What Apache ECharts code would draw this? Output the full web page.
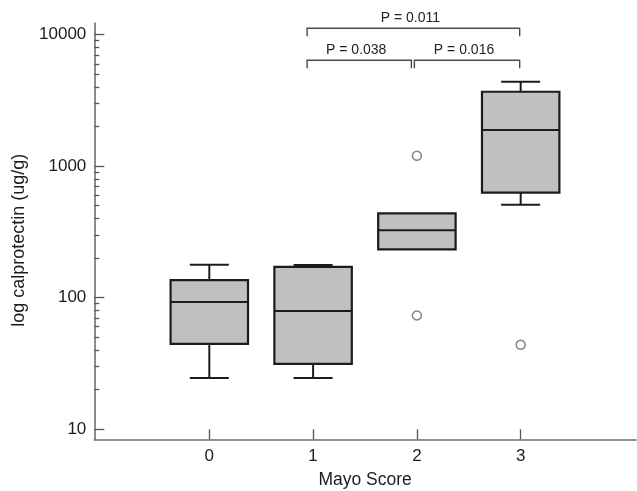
<!DOCTYPE html>
<html>
<head>
<meta charset="utf-8">
<script src="https://cdn.jsdelivr.net/npm/echarts@6/dist/echarts.min.js"></script>
<style>html,body{margin:0;padding:0;background:#fff}#c{width:637px;height:491px}</style>
</head>
<body>
<div id="c"></div>
<script>
// ---- data ----
const categories = ['0', '1', '2', '3'];
const groupX = [0, 1, 2, 3];
const whiskerLow = [24.4, 24.4, 232.7, 508];
const q1 = [44.5, 31.3, 232.7, 628];
const median = [92.6, 78.9, 326, 1882];
const q3 = [136, 171.5, 437, 3683];
const whiskerHigh = [178, 177, 437, 4390];
const outlierGroup = [2, 2, 3];
const outlierValue = [1200, 73.2, 43.7];
const yMajorTicks = [10, 100, 1000, 10000];
const yMinorTicks = [20, 30, 40, 50, 60, 70, 80, 90,
  200, 300, 400, 500, 600, 700, 800, 900,
  2000, 3000, 4000, 5000, 6000, 7000, 8000, 9000];
const comparisonFrom = [1, 2, 1];
const comparisonTo = [2, 3, 3];
const comparisonLevel = [0, 0, 1];
const comparisonLabel = ['P = 0.038', 'P = 0.016', 'P = 0.011'];
const yRange = [8.35, 12215];
const xRange = [-1.108, 4.111];

const boxData = groupX.map((x, i) => [x, whiskerLow[i], q1[i], median[i], q3[i], whiskerHigh[i]]);
const outlierData = outlierGroup.map((g, i) => [g, outlierValue[i]]);
const bracketData = comparisonFrom.map((f, i) => [f, comparisonTo[i], comparisonLevel[i], i]);

const chart = echarts.init(document.getElementById('c'), null, {renderer: 'canvas'});
const FONT = 'Liberation Sans, Arial, Helvetica, sans-serif';
const INK = '#1c1c1c';

function renderBox(params, api) {
  const x = api.value(0);
  const pLow = api.coord([x, api.value(1)]);
  const pQ1 = api.coord([x, api.value(2)]);
  const pMed = api.coord([x, api.value(3)]);
  const pQ3 = api.coord([x, api.value(4)]);
  const pHigh = api.coord([x, api.value(5)]);
  const unit = api.coord([1, 100])[0] - api.coord([0, 100])[0];
  const half = unit * 0.373;
  const capHalf = unit * 0.188;
  const cx = pMed[0];
  const ls = {stroke: INK, lineWidth: 2, fill: null};
  const children = [];
  if (pQ3[1] - pHigh[1] > 0.5) {
    children.push({type: 'line', shape: {x1: cx, y1: pQ3[1], x2: cx, y2: pHigh[1]}, style: ls});
    children.push({type: 'line', shape: {x1: cx - capHalf, y1: pHigh[1], x2: cx + capHalf, y2: pHigh[1]}, style: ls});
  }
  if (pLow[1] - pQ1[1] > 0.5) {
    children.push({type: 'line', shape: {x1: cx, y1: pQ1[1], x2: cx, y2: pLow[1]}, style: ls});
    children.push({type: 'line', shape: {x1: cx - capHalf, y1: pLow[1], x2: cx + capHalf, y2: pLow[1]}, style: ls});
  }
  children.push({type: 'rect', shape: {x: cx - half, y: pQ3[1], width: 2 * half, height: pQ1[1] - pQ3[1]},
    style: {fill: '#c0c0c0', stroke: INK, lineWidth: 2.2}});
  children.push({type: 'line', shape: {x1: cx - half, y1: pMed[1], x2: cx + half, y2: pMed[1]}, style: ls});
  return {type: 'group', children};
}

function renderBracket(params, api) {
  const a = api.value(0), b = api.value(1), level = api.value(2), idx = api.value(3);
  const top = params.coordSys.y;
  const xa = api.coord([a, 100])[0];
  const xb = api.coord([b, 100])[0];
  let sameLevelEndsAtA = false, sameLevelStartsAtB = false;
  for (let j = 0; j < comparisonFrom.length; j++) {
    if (j === idx || comparisonLevel[j] !== level) continue;
    if (comparisonTo[j] === a) sameLevelEndsAtA = true;
    if (comparisonFrom[j] === b) sameLevelStartsAtB = true;
  }
  const left = sameLevelEndsAtA ? xa - 2.5 : xa - 6;
  const right = sameLevelStartsAtB ? xb - 5.5 : xb - 1;
  const ly = top + (level === 0 ? 37 : 5);
  const drop = 8;
  const st = {stroke: '#4a4a4a', lineWidth: 1.4, fill: null};
  return {
    type: 'group',
    children: [
      {type: 'polyline', shape: {points: [[left, ly + drop], [left, ly], [right, ly], [right, ly + drop]]}, style: st},
      {type: 'text', style: {text: comparisonLabel[idx], x: (left + right) / 2 - 3, y: ly - 10.5,
        align: 'center', verticalAlign: 'middle', font: '14px ' + FONT, fill: '#222'}}
    ]
  };
}

const option = {
  animation: false,
  backgroundColor: '#fff',
  grid: {left: 94.3, right: 1, top: 23.3, bottom: 51.7, containLabel: false, outerBoundsMode: 'none'},
  xAxis: {
    type: 'value', min: xRange[0], max: xRange[1],
    splitLine: {show: false},
    axisLine: {show: true, onZero: false, lineStyle: {color: '#6e6e6e', width: 1.6}},
    axisTick: {show: true, inside: true, length: 10, customValues: groupX, lineStyle: {color: '#555', width: 1.3}},
    axisLabel: {customValues: groupX, formatter: v => categories[groupX.indexOf(Math.round(v))],
      margin: 9, fontSize: 17, color: INK, fontFamily: FONT},
    name: 'Mayo Score', nameLocation: 'middle', nameGap: 32,
    nameTextStyle: {fontSize: 17.5, color: INK, fontFamily: FONT}
  },
  yAxis: [{
    type: 'log', logBase: 10, min: yRange[0], max: yRange[1], position: 'left',
    splitLine: {show: false},
    axisLine: {show: true, onZero: false, lineStyle: {color: '#6e6e6e', width: 1.6}},
    axisTick: {show: true, inside: true, length: 10, customValues: yMajorTicks, lineStyle: {color: '#555', width: 1.3}},
    axisLabel: {customValues: yMajorTicks, formatter: v => String(Math.round(v)),
      margin: 8, fontSize: 17, color: INK, fontFamily: FONT},
    name: 'log calprotectin (ug/g)', nameLocation: 'middle', nameGap: 58, nameRotate: 90,
    nameTextStyle: {fontSize: 18, color: INK, fontFamily: FONT, padding: [0, 18, 0, 0]}
  }, {
    type: 'log', logBase: 10, min: yRange[0], max: yRange[1], position: 'left', offset: 0,
    splitLine: {show: false},
    axisLine: {show: false, onZero: false},
    axisTick: {show: true, inside: true, length: 5, customValues: yMinorTicks, lineStyle: {color: '#555', width: 1.3}},
    axisLabel: {show: false}
  }],
  series: [
    {type: 'custom', name: 'box', xAxisIndex: 0, yAxisIndex: 0, renderItem: renderBox,
      encode: {x: 0, y: [1, 2, 3, 4, 5]}, data: boxData, z: 3},
    {type: 'scatter', name: 'outliers', xAxisIndex: 0, yAxisIndex: 0, data: outlierData,
      symbol: 'circle', symbolSize: 9,
      itemStyle: {color: '#fff', borderColor: '#666', borderWidth: 1.5}, z: 4},
    {type: 'custom', name: 'brackets', xAxisIndex: 0, yAxisIndex: 0, renderItem: renderBracket,
      encode: {x: [0, 1]}, data: bracketData, clip: false, z: 5, silent: true}
  ]
};
chart.setOption(option);
</script>
</body>
</html>
